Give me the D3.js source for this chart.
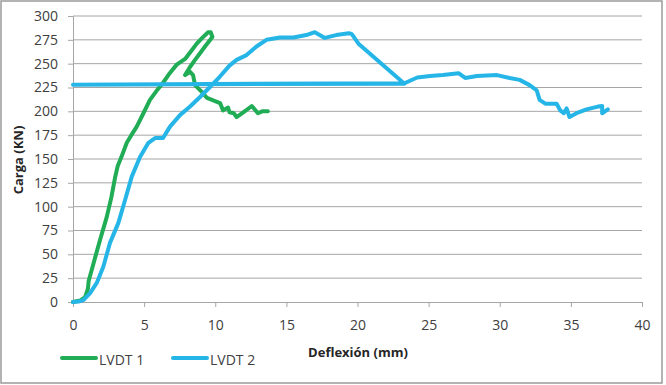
<!DOCTYPE html>
<html>
<head>
<meta charset="utf-8">
<script src="https://cdn.jsdelivr.net/npm/d3@7"></script>
<style>
	body { margin: 0; background: #fff; }
	svg { display: block; }
	text { font-family: "Open Sans", sans-serif; }
</style>
</head>
<body>
<svg id="chart"></svg>
<script>
// deflexion (mm), carga (KN)
var lvdt1 = [
	[0, 0], [0.5, 1.5], [0.85, 5], [1.05, 14], [1.1, 22], [1.45, 41], [1.9, 65],
	[2.37, 89], [2.7, 110], [2.95, 130], [3.15, 143], [3.4, 152], [3.78, 167], [4.1, 175],
	[4.48, 184], [4.95, 198], [5.41, 212], [5.85, 221], [6.33, 230], [6.8, 240],
	[7.29, 249], [7.88, 255], [8.35, 264], [8.7, 271], [9.05, 276.5],
	[9.5, 283], [9.68, 283], [9.8, 278], [9.28, 268], [8.93, 261], [8.58, 254],
	[8.2, 246], [7.88, 238], [8.23, 241.5], [8.44, 238], [8.58, 227.6], [9.14, 219],
	[9.42, 214], [10.34, 208.7], [10.55, 201], [10.9, 204], [11.0, 199], [11.3, 198],
	[11.5, 194], [11.97, 199], [12.57, 205.6], [13.0, 198], [13.3, 200], [13.7, 200]
];

var lvdt2 = [
	[0, 0], [0.4, 0.5], [0.73, 2], [1.2, 9.4], [1.67, 20], [2.13, 37], [2.6, 62],
	[3.19, 83], [3.66, 107], [4.13, 131.5], [4.71, 152], [5.3, 167], [5.77, 172],
	[6.33, 172], [6.82, 184], [7.52, 196], [8.23, 205], [8.93, 215], [9.63, 225.5],
	[10.3, 236], [11.0, 248], [11.5, 254], [12.2, 259], [12.9, 268], [13.6, 275],
	[14.55, 277.5], [15.5, 277.5], [16.4, 280], [17.0, 283], [17.7, 277], [18.5, 280],
	[19.4, 282], [19.6, 281], [20.07, 271], [23.3, 229], [0, 228], [23.3, 229.5],
	[24.2, 235.5], [25.1, 237], [26.0, 238], [27.1, 240], [27.57, 235], [28.4, 237],
	[29.8, 238], [30.7, 235], [31.4, 233], [32.1, 227.5], [32.6, 222], [32.8, 212],
	[33.2, 208], [34.0, 208], [34.25, 201], [34.5, 198], [34.7, 203], [34.9, 194],
	[35.4, 198], [36.1, 202], [36.9, 205], [37.2, 205.6], [37.2, 198], [37.6, 202]
];

var xTicks = [0, 5, 10, 15, 20, 25, 30, 35, 40];
var yTicks = [0, 25, 50, 75, 100, 125, 150, 175, 200, 225, 250, 275, 300];

var series = [
	{ 'n': 'LVDT 1', 'd': lvdt1, 'c': '#20ad56' },
	{ 'n': 'LVDT 2', 'd': lvdt2, 'c': '#26b5e7' }
];

var width = 666, height = 385;
var margin = { top: 16, right: 24, bottom: 83, left: 73 };

var svg = d3.select("#chart")
	.attr("width", width)
	.attr("height", height);

// marco del grafico
svg.append("rect")
	.attr("x", 1).attr("y", 1)
	.attr("width", 661).attr("height", 382)
	.attr("fill", "#fff")
	.attr("stroke", "#9a9a9a")
	.attr("stroke-width", 1.5);

var x = d3.scaleLinear().domain([0, 40]).range([margin.left, width - margin.right]);
var y = d3.scaleLinear().domain([0, 300]).range([height - margin.bottom, margin.top]);

// lineas de grilla
svg.append("g")
	.selectAll("line")
	.data(yTicks.slice(1))
	.enter().append("line")
	.attr("x1", x(0)).attr("x2", x(40))
	.attr("y1", function(d) { return y(d); })
	.attr("y2", function(d) { return y(d); })
	.attr("stroke", "#a6a6a6")
	.attr("stroke-width", 1);

var yAxis = svg.append("g")
	.attr("transform", "translate(" + x(0) + ",0)")
	.call(d3.axisLeft(y).tickValues(yTicks).tickSize(5).tickPadding(10));

var xAxis = svg.append("g")
	.attr("transform", "translate(0," + y(0) + ")")
	.call(d3.axisBottom(x).tickValues(xTicks).tickSize(5).tickPadding(13));

[yAxis, xAxis].forEach(function(a) {
	a.select(".domain").attr("stroke", "#a6a6a6");
	a.selectAll(".tick line").attr("stroke", "#a6a6a6");
	a.selectAll(".tick text")
		.style("font-family", "Open Sans")
		.style("font-size", "14px")
		.attr("fill", "#404040");
});

var line = d3.line()
	.x(function(d) { return x(d[0]); })
	.y(function(d) { return y(d[1]); });

svg.append("g")
	.selectAll("path")
	.data(series)
	.enter().append("path")
	.attr("d", function(d) { return line(d.d); })
	.attr("fill", "none")
	.attr("stroke", function(d) { return d.c; })
	.attr("stroke-width", 4)
	.attr("stroke-linejoin", "round")
	.attr("stroke-linecap", "round");

// titulos de ejes
svg.append("text")
	.attr("transform", "translate(23,160) rotate(-90)")
	.attr("text-anchor", "middle")
	.style("font-size", "13px")
	.style("font-weight", "bold")
	.attr("fill", "#262626")
	.text("Carga (KN)");

svg.append("text")
	.attr("x", 358).attr("y", 357)
	.attr("text-anchor", "middle")
	.style("font-size", "13px")
	.style("font-weight", "bold")
	.attr("fill", "#262626")
	.text("Deflexión (mm)");

// leyenda
var legend = svg.append("g")
	.selectAll("g")
	.data(series)
	.enter().append("g")
	.attr("transform", function(d, i) { return "translate(" + (62 + i * 111) + ",358)"; });

legend.append("line")
	.attr("x1", 0).attr("x2", 34)
	.attr("stroke", function(d) { return d.c; })
	.attr("stroke-width", 4)
	.attr("stroke-linecap", "round");

legend.append("text")
	.attr("x", 37).attr("y", 7)
	.style("font-size", "14px")
	.attr("fill", "#404040")
	.text(function(d) { return d.n; });
</script>
</body>
</html>
